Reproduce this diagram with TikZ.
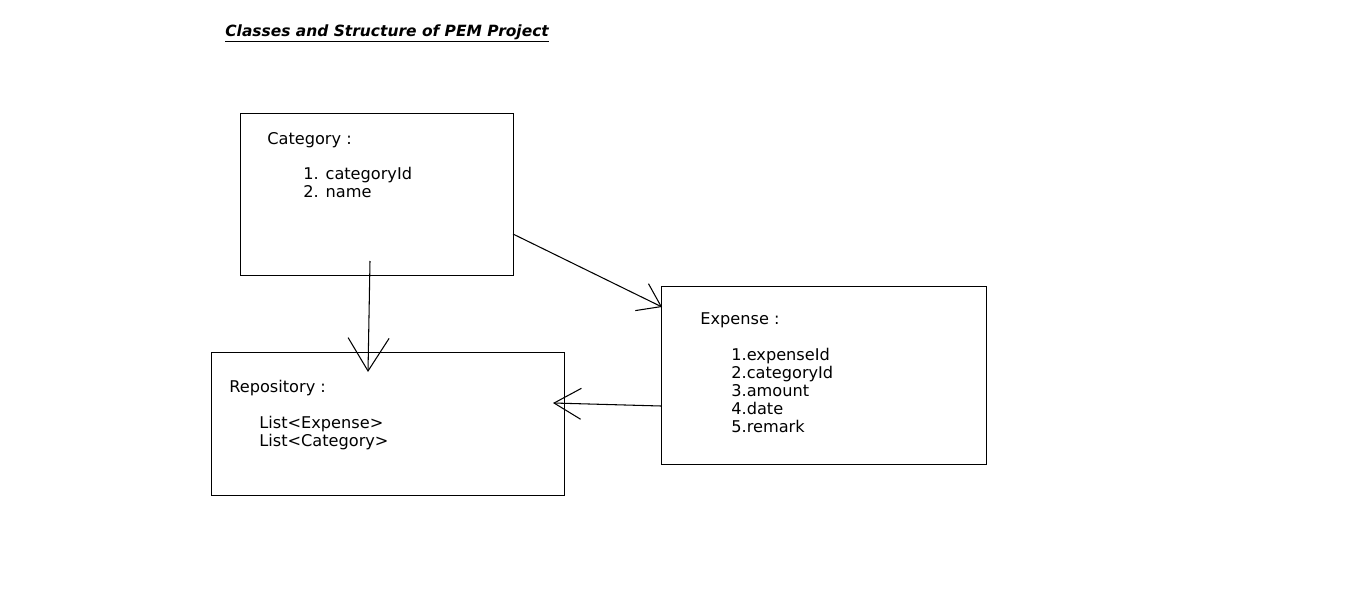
\documentclass[tikz,border=0pt]{standalone}
\usepackage{fontspec}
\setmainfont{DejaVu Sans}
\usetikzlibrary{arrows.meta}
\tikzset{
  box/.style={draw, line width=0.6pt, anchor=north west, inner sep=0pt},
  txt/.style={anchor=base west, inner sep=0pt, font=\fontsize{9.2}{10}\selectfont},
  handarrow/.style 2 args={line width=0.6pt, -{Straight Barb[length=#1, width=#2, line width=0.6pt]}}
}
\begin{document}
\begin{tikzpicture}[x=0.02cm,y=-0.02cm]
        \useasboundingbox (0,0) rectangle (1360,595);
        \node[box, minimum width=5.46cm, minimum height=3.24cm] (cat) at (240,113) {};
        \node[box, minimum width=7.06cm, minimum height=2.86cm] (repo) at (211,352) {};
        \node[box, minimum width=6.5cm, minimum height=3.56cm] (exp) at (661,286) {};
        \node[anchor=base west, inner sep=0pt, font=\fontsize{8.8}{10}\bfseries\itshape\selectfont] (title) at (225,36) {\underline{Classes and Structure of PEM Project}};
        \node[txt] (catname) at (267,144) {Category :};
        \node[txt] (cat1) at (303,179) {1. categoryId};
        \node[txt] (cat2) at (303,197) {2. name};
        \node[txt] (reponame) at (229,392) {Repository :};
        \node[txt] (repo1) at (259,428) {List<Expense>};
        \node[txt] (repo2) at (259,446) {List<Category>};
        \node[txt] (expname) at (700,324) {Expense :};
        \node[txt] (exp1) at (731,360) {1.expenseId};
        \node[txt] (exp2) at (731,378) {2.categoryId};
        \node[txt] (exp3) at (731,396) {3.amount};
        \node[txt] (exp4) at (731,414) {4.date};
        \node[txt] (exp5) at (731,432) {5.remark};
        \coordinate (catdown) at (370,261);
        \coordinate (repotop) at (368,372);
        \coordinate (catright) at (513,234);
        \coordinate (expleft) at (662,307);
        \coordinate (expout) at (661,406);
        \coordinate (reporight) at (553,403);
        \draw[handarrow={0.66cm}{0.82cm}] (catdown) -- (repotop);
        \draw[handarrow={0.43cm}{0.6cm}] (catright) -- (expleft);
        \draw[handarrow={0.54cm}{0.62cm}] (expout) -- (reporight);
      \end{tikzpicture}
\end{document}
